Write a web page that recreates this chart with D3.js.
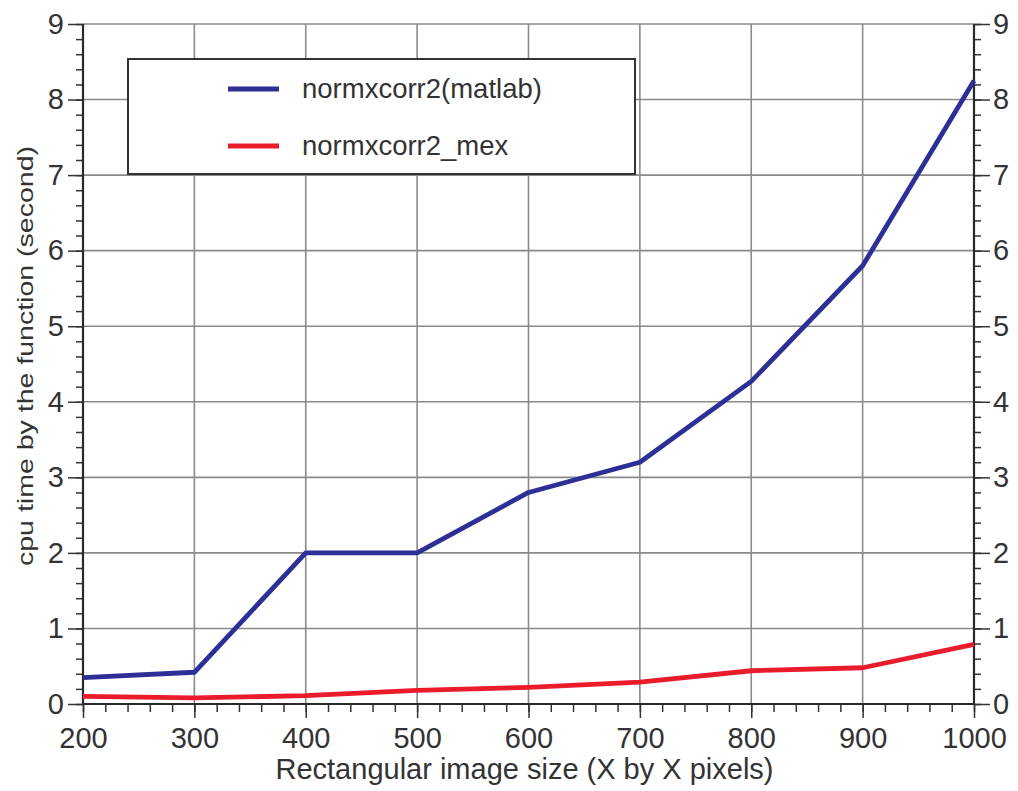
<!DOCTYPE html>
<html>
<head>
<meta charset="utf-8">
<script src="https://cdn.jsdelivr.net/npm/d3@7"></script>
<style>
  body { margin: 0; background: #fff; }
  svg text { font-family: "Liberation Sans", Arial, Helvetica, sans-serif; fill: #333; }
</style>
</head>
<body>
<div id="chart"></div>
<script>
// image sizes on the x axis
var sizes = [200, 300, 400, 500, 600, 700, 800, 900, 1000];
// cpu time (s)
var matlabTimes = [0.35, 0.42, 2.0, 2.0, 2.8, 3.2, 4.27, 5.8, 8.25];
var mexTimes = [0.10, 0.08, 0.11, 0.18, 0.22, 0.29, 0.44, 0.48, 0.79];
var seriesNames = ["normxcorr2(matlab)", "normxcorr2_mex"];
var xTicks = [200, 300, 400, 500, 600, 700, 800, 900, 1000];
var yTicks = [0, 1, 2, 3, 4, 5, 6, 7, 8, 9];

drawChart("#chart");

function drawChart(sel) {
  var width = 1018, height = 791;
  var margin = { left: 83, right: 44, top: 24, bottom: 87 };
  var w = width - margin.left - margin.right;
  var h = height - margin.top - margin.bottom;

  var svg = d3.select(sel).append("svg")
    .attr("width", width)
    .attr("height", height);

  var g = svg.append("g")
    .attr("transform", "translate(" + margin.left + "," + margin.top + ")");

  var x = d3.scaleLinear().domain([200, 1000]).range([0, w]);
  var y = d3.scaleLinear().domain([0, 9]).range([h, 0]);

  // grid
  g.append("g").selectAll("line")
    .data(xTicks.slice(1, -1))
    .enter().append("line")
    .attr("x1", d => x(d)).attr("x2", d => x(d))
    .attr("y1", 0).attr("y2", h)
    .attr("stroke", "#8a8a8a").attr("stroke-width", 1.6);

  g.append("g").selectAll("line")
    .data(yTicks.slice(1))
    .enter().append("line")
    .attr("x1", 0).attr("x2", w)
    .attr("y1", d => y(d)).attr("y2", d => y(d))
    .attr("stroke", "#8a8a8a").attr("stroke-width", 1.6);

  // minor ticks
  var xMinor = d3.range(200, 1000.1, 20);
  var yMinor = d3.range(0, 9.01, 0.2);

  function styleAxis(sel) {
    sel.select(".domain").remove();
    sel.selectAll(".tick line").attr("stroke", "#333").attr("stroke-width", 1.5);
    sel.selectAll(".tick text")
      .attr("font-size", 29)
      .attr("fill", "#333");
  }

  g.append("g")
    .attr("transform", "translate(0," + h + ")")
    .call(d3.axisBottom(x).tickValues(xMinor).tickSize(8).tickFormat(""))
    .call(styleAxis);
  g.append("g")
    .call(d3.axisLeft(y).tickValues(yMinor).tickSize(7).tickFormat(""))
    .call(styleAxis);
  g.append("g")
    .attr("transform", "translate(" + w + ",0)")
    .call(d3.axisRight(y).tickValues(yMinor).tickSize(7).tickFormat(""))
    .call(styleAxis);

  // major ticks + labels
  g.append("g")
    .attr("transform", "translate(0," + h + ")")
    .call(d3.axisBottom(x).tickValues(xTicks).tickSize(14).tickPadding(9).tickFormat(d3.format("d")))
    .call(styleAxis);

  g.append("g")
    .call(d3.axisLeft(y).tickValues(yTicks).tickSize(15).tickPadding(4).tickFormat(d3.format("d")))
    .call(styleAxis);
  g.append("g")
    .attr("transform", "translate(" + w + ",0)")
    .call(d3.axisRight(y).tickValues(yTicks).tickSize(16).tickPadding(3).tickFormat(d3.format("d")))
    .call(styleAxis);

  // axis lines (left, bottom, right)
  g.append("path")
    .attr("d", "M0,0V" + h + "H" + w + "V0")
    .attr("fill", "none")
    .attr("stroke", "#2a2a2a")
    .attr("stroke-width", 2.2);

  // lines
  var line = d3.line()
    .x((d, i) => x(sizes[i]))
    .y(d => y(d));

  g.append("path")
    .datum(mexTimes)
    .attr("d", line)
    .attr("fill", "none")
    .attr("stroke", "#ea1c2b")
    .attr("stroke-width", 4.8)
    .attr("stroke-linejoin", "round");

  g.append("path")
    .datum(matlabTimes)
    .attr("d", line)
    .attr("fill", "none")
    .attr("stroke", "#2d2f96")
    .attr("stroke-width", 4.8)
    .attr("stroke-linejoin", "round");

  // legend
  var legend = svg.append("g");
  legend.append("rect")
    .attr("x", 128).attr("y", 59)
    .attr("width", 507).attr("height", 115)
    .attr("fill", "#fff")
    .attr("stroke", "#333")
    .attr("stroke-width", 2);

  var legendColors = ["#2d2f96", "#ea1c2b"];
  var legendY = [89, 146];
  seriesNames.forEach(function(name, i) {
    legend.append("line")
      .attr("x1", 228).attr("x2", 279)
      .attr("y1", legendY[i]).attr("y2", legendY[i])
      .attr("stroke", legendColors[i])
      .attr("stroke-width", 4.8);
    legend.append("text")
      .attr("x", 302)
      .attr("y", legendY[i] + 9)
      .attr("font-size", 27.5)
      .text(name);
  });

  // axis titles
  svg.append("text")
    .attr("x", margin.left + w / 2 - 4)
    .attr("y", 779)
    .attr("text-anchor", "middle")
    .attr("font-size", 30)
    .attr("textLength", 498)
    .attr("lengthAdjust", "spacingAndGlyphs")
    .text("Rectangular image size (X by X pixels)");

  svg.append("text")
    .attr("transform", "translate(33,356) rotate(-90)")
    .attr("text-anchor", "middle")
    .attr("font-size", 22)
    .attr("textLength", 420)
    .attr("lengthAdjust", "spacingAndGlyphs")
    .text("cpu time by the function (second)");
}
</script>
</body>
</html>
